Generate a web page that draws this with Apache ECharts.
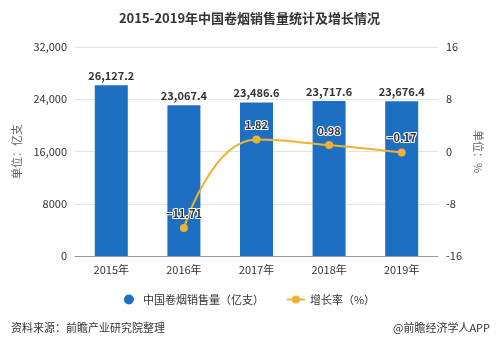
<!DOCTYPE html>
<html><head><meta charset="utf-8">
<script src="https://cdn.jsdelivr.net/npm/echarts@6/dist/echarts.min.js"></script>
<style>html,body{margin:0;padding:0;background:#fff}#c{width:499px;height:346px}</style>
</head><body><div id="c"></div>
<script>
const categories = ['2015年','2016年','2017年','2018年','2019年'];
const salesValues = [26127.2, 23067.4, 23486.6, 23717.6, 23676.4];
const growthValues = [null, -11.71, 1.82, 0.98, -0.17];
const leftTicks = [0, 8000, 16000, 24000, 32000];
const rightTicks = [-16, -8, 0, 8, 16];

const chart = echarts.init(document.getElementById('c'));
const fmtNum = v => v.toLocaleString('en-US', {minimumFractionDigits:1, maximumFractionDigits:1});
chart.setOption({
  animation: false,
  textStyle: {fontFamily: '"Noto Sans CJK SC", "Noto Sans", sans-serif'},
  title: [{
    text: '2015-2019年中国卷烟销售量统计及增长情况',
    left: 'center', top: 7,
    textStyle: {fontSize: 13, fontWeight: 'bold', color: '#333'}
  },{
    text: '资料来源：前瞻产业研究院整理', left: 6, top: 317,
    textStyle: {fontSize: 11, fontWeight: 'normal', color: '#333'}
  },{
    text: '@前瞻经济学人APP', right: 4, top: 317,
    textStyle: {fontSize: 11, fontWeight: 'normal', color: '#333'}
  }],
  legend: {
    top: 289, left: 'center', itemGap: 22, itemWidth: 18, itemHeight: 10,
    textStyle: {fontSize: 11, color: '#333'},
    data: [{name: '中国卷烟销售量（亿支）', icon: 'circle'}, {name: '增长率（%）'}]
  },
  grid: {left: 75, right: 61, top: 47, bottom: 90},
  xAxis: {
    type: 'category', data: categories,
    axisLine: {lineStyle: {color: '#999'}},
    axisTick: {show: false},
    axisLabel: {color: '#333', fontSize: 11, margin: 8}
  },
  yAxis: [{
    type: 'value', min: leftTicks[0], max: leftTicks[leftTicks.length-1], interval: 8000,
    name: '单位：亿支', nameLocation: 'middle', nameGap: 50, nameRotate: 90,
    nameTextStyle: {color: '#666', fontSize: 11},
    axisLine: {show: false}, axisTick: {show: false},
    axisLabel: {color: '#333', fontSize: 11, formatter: v => v >= 10000 ? v.toLocaleString('en-US') : String(v)},
    splitLine: {lineStyle: {color: '#e3e3e3'}}
  },{
    type: 'value', min: rightTicks[0], max: rightTicks[rightTicks.length-1], interval: 8,
    name: '单位：%', nameLocation: 'middle', nameGap: 30, nameRotate: -90,
    nameTextStyle: {color: '#666', fontSize: 11},
    axisLine: {show: false}, axisTick: {show: false},
    axisLabel: {color: '#333', fontSize: 11},
    splitLine: {show: false}
  }],
  series: [{
    name: '中国卷烟销售量（亿支）', type: 'bar', data: salesValues, barWidth: 33,
    itemStyle: {color: '#1d6fc1'},
    label: {show: true, position: 'top', distance: 4, fontSize: 11, fontWeight: 'bold', color: '#333',
      formatter: p => fmtNum(p.value)}
  },{
    name: '增长率（%）', type: 'line', yAxisIndex: 1, data: growthValues, smooth: true,
    connectNulls: false, symbol: 'circle', symbolSize: 8,
    itemStyle: {color: '#f0b232'}, lineStyle: {color: '#f0b232', width: 2},
    label: {show: true, position: 'top', distance: 5, fontSize: 11, fontWeight: 'bold', color: '#333',
      textBorderColor: '#fff', textBorderWidth: 2,
      formatter: p => p.value == null ? '' : (p.value < 0 ? '−' + Math.abs(p.value).toFixed(2) : p.value.toFixed(2))}
  }]
});
</script></body></html>
